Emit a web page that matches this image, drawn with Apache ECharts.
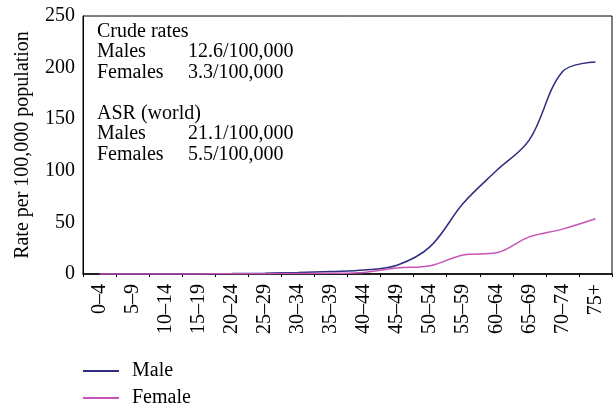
<!DOCTYPE html>
<html>
<head>
<meta charset="utf-8">
<script src="https://cdn.jsdelivr.net/npm/echarts@6/dist/echarts.min.js"></script>
<style>
  html, body { margin: 0; padding: 0; background: #fff; }
  #main { width: 616px; height: 408px; }
</style>
</head>
<body>
<div id="main"></div>
<script>
const ageGroups = ['0–4', '5–9', '10–14', '15–19', '20–24', '25–29', '30–34', '35–39',
    '40–44', '45–49', '50–54', '55–59', '60–64', '65–69', '70–74', '75+']
const maleRates = [0.2, 0.2, 0.2, 0.3, 0.4, 0.8, 1.5, 2.5, 3.8, 8.5, 26.5, 68.5, 100, 130, 196, 205.5]
const femaleRates = [0.1, 0.1, 0.1, 0.1, 0.2, 0.3, 0.5, 0.7, 1.5, 5.8, 8, 18.5, 20.5, 36, 43.5, 53.5]
const yTicks = [0, 50, 100, 150, 200, 250]

const font = 'Liberation Serif'
const fs = 20

const chartDom = document.getElementById('main')
const myChart = echarts.init(chartDom)

const option = {
    backgroundColor: '#fff',
    animation: false,
    textStyle: { fontFamily: font, color: '#000' },
    grid: {
        left: 83, top: 16, right: 4, bottom: 134,
        show: true, borderColor: '#000', borderWidth: 1
    },
    legend: {
        orient: 'vertical',
        left: 83,
        top: 361,
        height: 60,
        padding: 0,
        itemWidth: 36,
        itemHeight: 2,
        itemGap: 7,
        icon: 'rect',
        textStyle: { fontFamily: font, fontSize: fs, lineHeight: 20, color: '#000', padding: [0, 0, 0, 8] },
        data: ['Male', 'Female']
    },
    xAxis: {
        type: 'category',
        data: ageGroups,
        boundaryGap: true,
        axisLine: { lineStyle: { color: '#000', width: 1.5 } },
        axisTick: { show: true, length: 3, lineStyle: { color: '#000' } },
        axisLabel: { rotate: 90, margin: 10, fontFamily: font, fontSize: fs, color: '#000', interval: 0 }
    },
    yAxis: {
        type: 'value',
        min: yTicks[0],
        max: yTicks[yTicks.length - 1],
        interval: 50,
        name: 'Rate per 100,000 population',
        nameLocation: 'middle',
        nameGap: 50,
        nameTextStyle: { fontFamily: font, fontSize: fs, color: '#000' },
        splitLine: { show: false },
        axisLine: { show: true, lineStyle: { color: '#000' } },
        axisTick: { show: false },
        axisLabel: { margin: 8, fontFamily: font, fontSize: fs, color: '#000' }
    },
    graphic: [
        {
            type: 'text',
            left: 97,
            top: 21,
            style: {
                text: 'Crude rates\nMales\nFemales\n\nASR (world)\nMales\nFemales',
                font: fs + 'px "' + font + '"',
                lineHeight: 20.5,
                fill: '#000'
            }
        },
        {
            type: 'text',
            left: 188,
            top: 21,
            style: {
                text: ' \n12.6/100,000\n3.3/100,000\n \n \n21.1/100,000\n5.5/100,000',
                font: fs + 'px "' + font + '"',
                lineHeight: 20.5,
                fill: '#000'
            }
        }
    ],
    series: [
        {
            name: 'Male',
            type: 'line',
            data: maleRates,
            smooth: 0.35,
            symbol: 'none',
            color: '#2e2d7f',
            lineStyle: { width: 1.5, color: '#2e2d7f' }
        },
        {
            name: 'Female',
            type: 'line',
            data: femaleRates,
            smooth: 0.35,
            symbol: 'none',
            color: '#c654b6',
            lineStyle: { width: 1.5, color: '#c654b6' }
        }
    ]
}

myChart.setOption(option)
</script>
</body>
</html>
